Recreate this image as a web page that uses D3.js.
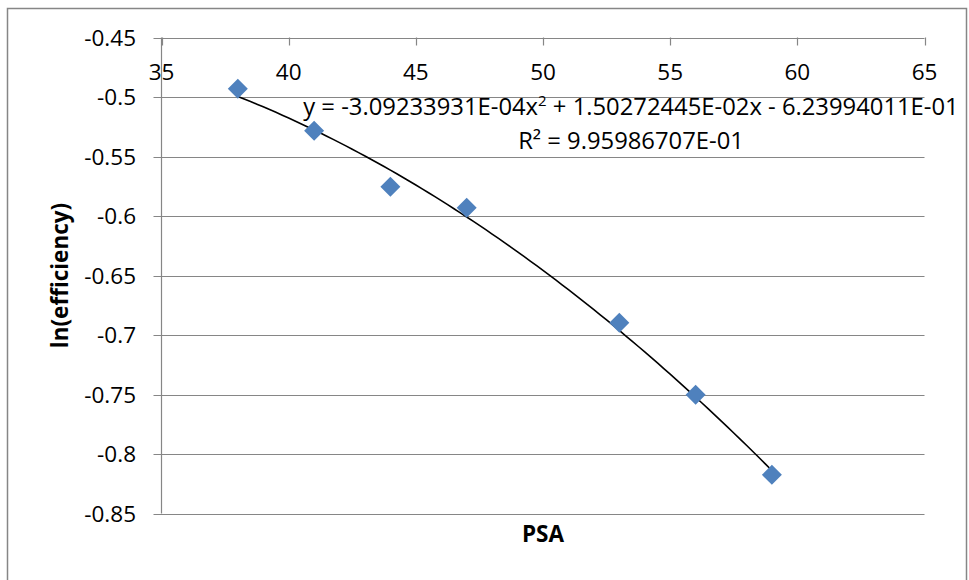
<!DOCTYPE html>
<html>
<head>
<meta charset="utf-8">
<script src="https://cdn.jsdelivr.net/npm/d3@7"></script>
<style>
  body { margin: 0; background: #fff; }
  svg text { font-family: "Open Sans", "Liberation Sans", sans-serif; fill: #000; }
</style>
</head>
<body>
<div id="chart"></div>
<script>
// data
const psa = [38, 41, 44, 47, 53, 56, 59];
const lnEff = [-0.4931, -0.5284, -0.5755, -0.5931, -0.6897, -0.7503, -0.8175];
const xTicks = [35, 40, 45, 50, 55, 60, 65];
const yTicks = [-0.45, -0.5, -0.55, -0.6, -0.65, -0.7, -0.75, -0.8, -0.85];
// trendline coefficients as printed on the chart
const coefA = -3.09233931E-04, coefB = 1.50272445E-02, coefC = -6.23994011E-01;
const eqText = ["y = -3.09233931E-04x", "2", " + 1.50272445E-02x - 6.23994011E-01"];
const r2Text = "R² = 9.95986707E-01";

const W = 969, H = 580;
const plot = { left: 161.5, right: 924.5, top: 37.5, bottom: 513.5 };
const gridColor = "#868686";
const fontSize = 22.5;

const svg = d3.select("#chart").append("svg")
    .attr("width", W)
    .attr("height", H);

// outer chart border
svg.append("rect")
    .attr("x", 7.5).attr("y", 8.5)
    .attr("width", 959).attr("height", 620)
    .attr("fill", "none")
    .attr("stroke", gridColor)
    .attr("stroke-width", 1.5);

let x = d3.scaleLinear().domain([35, 65]).range([plot.left, plot.right]);
let y = d3.scaleLinear().domain([-0.45, -0.85]).range([plot.top, plot.bottom]);

// horizontal gridlines
svg.append("g").selectAll("line")
    .data(yTicks)
    .enter()
    .append("line")
    .attr("x1", plot.left - 8)
    .attr("x2", plot.right)
    .attr("y1", d => Math.round(y(d)) + 0.5)
    .attr("y2", d => Math.round(y(d)) + 0.5)
    .attr("stroke", gridColor)
    .attr("stroke-width", 1.2);

// y axis line
svg.append("line")
    .attr("x1", plot.left).attr("x2", plot.left)
    .attr("y1", plot.top).attr("y2", plot.bottom)
    .attr("stroke", gridColor)
    .attr("stroke-width", 1.2);

// x tick marks hang down from the top line (axis crosses at -0.45)
svg.append("g").selectAll("line")
    .data(xTicks)
    .enter()
    .append("line")
    .attr("x1", d => Math.round(x(d)) + 0.5)
    .attr("x2", d => Math.round(x(d)) + 0.5)
    .attr("y1", plot.top)
    .attr("y2", plot.top + 8)
    .attr("stroke", gridColor)
    .attr("stroke-width", 1.2);

// y tick labels (plain hyphen, like the original)
svg.append("g").selectAll("text")
    .data(yTicks)
    .enter()
    .append("text")
    .attr("x", 136)
    .attr("y", d => y(d))
    .attr("dy", "0.36em")
    .style("text-anchor", "end")
    .style("font-size", fontSize + "px")
    .text(d => String(d));

// x tick labels
svg.append("g").selectAll("text")
    .data(xTicks)
    .enter()
    .append("text")
    .attr("x", d => x(d))
    .attr("y", 80)
    .style("text-anchor", "middle")
    .style("font-size", fontSize + "px")
    .text(d => d);

// trendline
const trendX = d3.range(38, 59.01, 0.25);
const line = d3.line()
    .x(d => x(d))
    .y(d => y(coefA * d * d + coefB * d + coefC));
svg.append("path")
    .datum(trendX)
    .attr("d", line)
    .attr("fill", "none")
    .attr("stroke", "#000")
    .attr("stroke-width", 1.6);

// markers
const diamond = d3.symbol().type(d3.symbolSquare).size(200);
svg.append("g").selectAll("path")
    .data(psa.map((d, i) => [d, lnEff[i]]))
    .enter()
    .append("path")
    .attr("d", diamond)
    .attr("transform", d => `translate(${x(d[0])},${y(d[1])}) rotate(45)`)
    .attr("fill", "#4F81BD");

// equation label
let eq = svg.append("text")
    .attr("x", 631)
    .attr("y", 115)
    .style("text-anchor", "middle")
    .style("font-size", "23.8px");
eq.append("tspan").text(eqText[0]);
eq.append("tspan").attr("dy", -9).style("font-size", "15px").text(eqText[1]);
eq.append("tspan").attr("dy", 9).text(eqText[2]);

svg.append("text")
    .attr("x", 631)
    .attr("y", 149)
    .style("text-anchor", "middle")
    .style("font-size", "23.8px")
    .text(r2Text);

// axis titles
svg.append("text")
    .attr("transform", `translate(68, ${(plot.top + plot.bottom) / 2}) rotate(-90)`)
    .style("text-anchor", "middle")
    .style("font-size", fontSize + "px")
    .style("font-weight", "bold")
    .text("ln(efficiency)");

svg.append("text")
    .attr("x", (plot.left + plot.right) / 2)
    .attr("y", 542)
    .style("text-anchor", "middle")
    .style("font-size", fontSize + "px")
    .style("font-weight", "bold")
    .text("PSA");
</script>
</body>
</html>
